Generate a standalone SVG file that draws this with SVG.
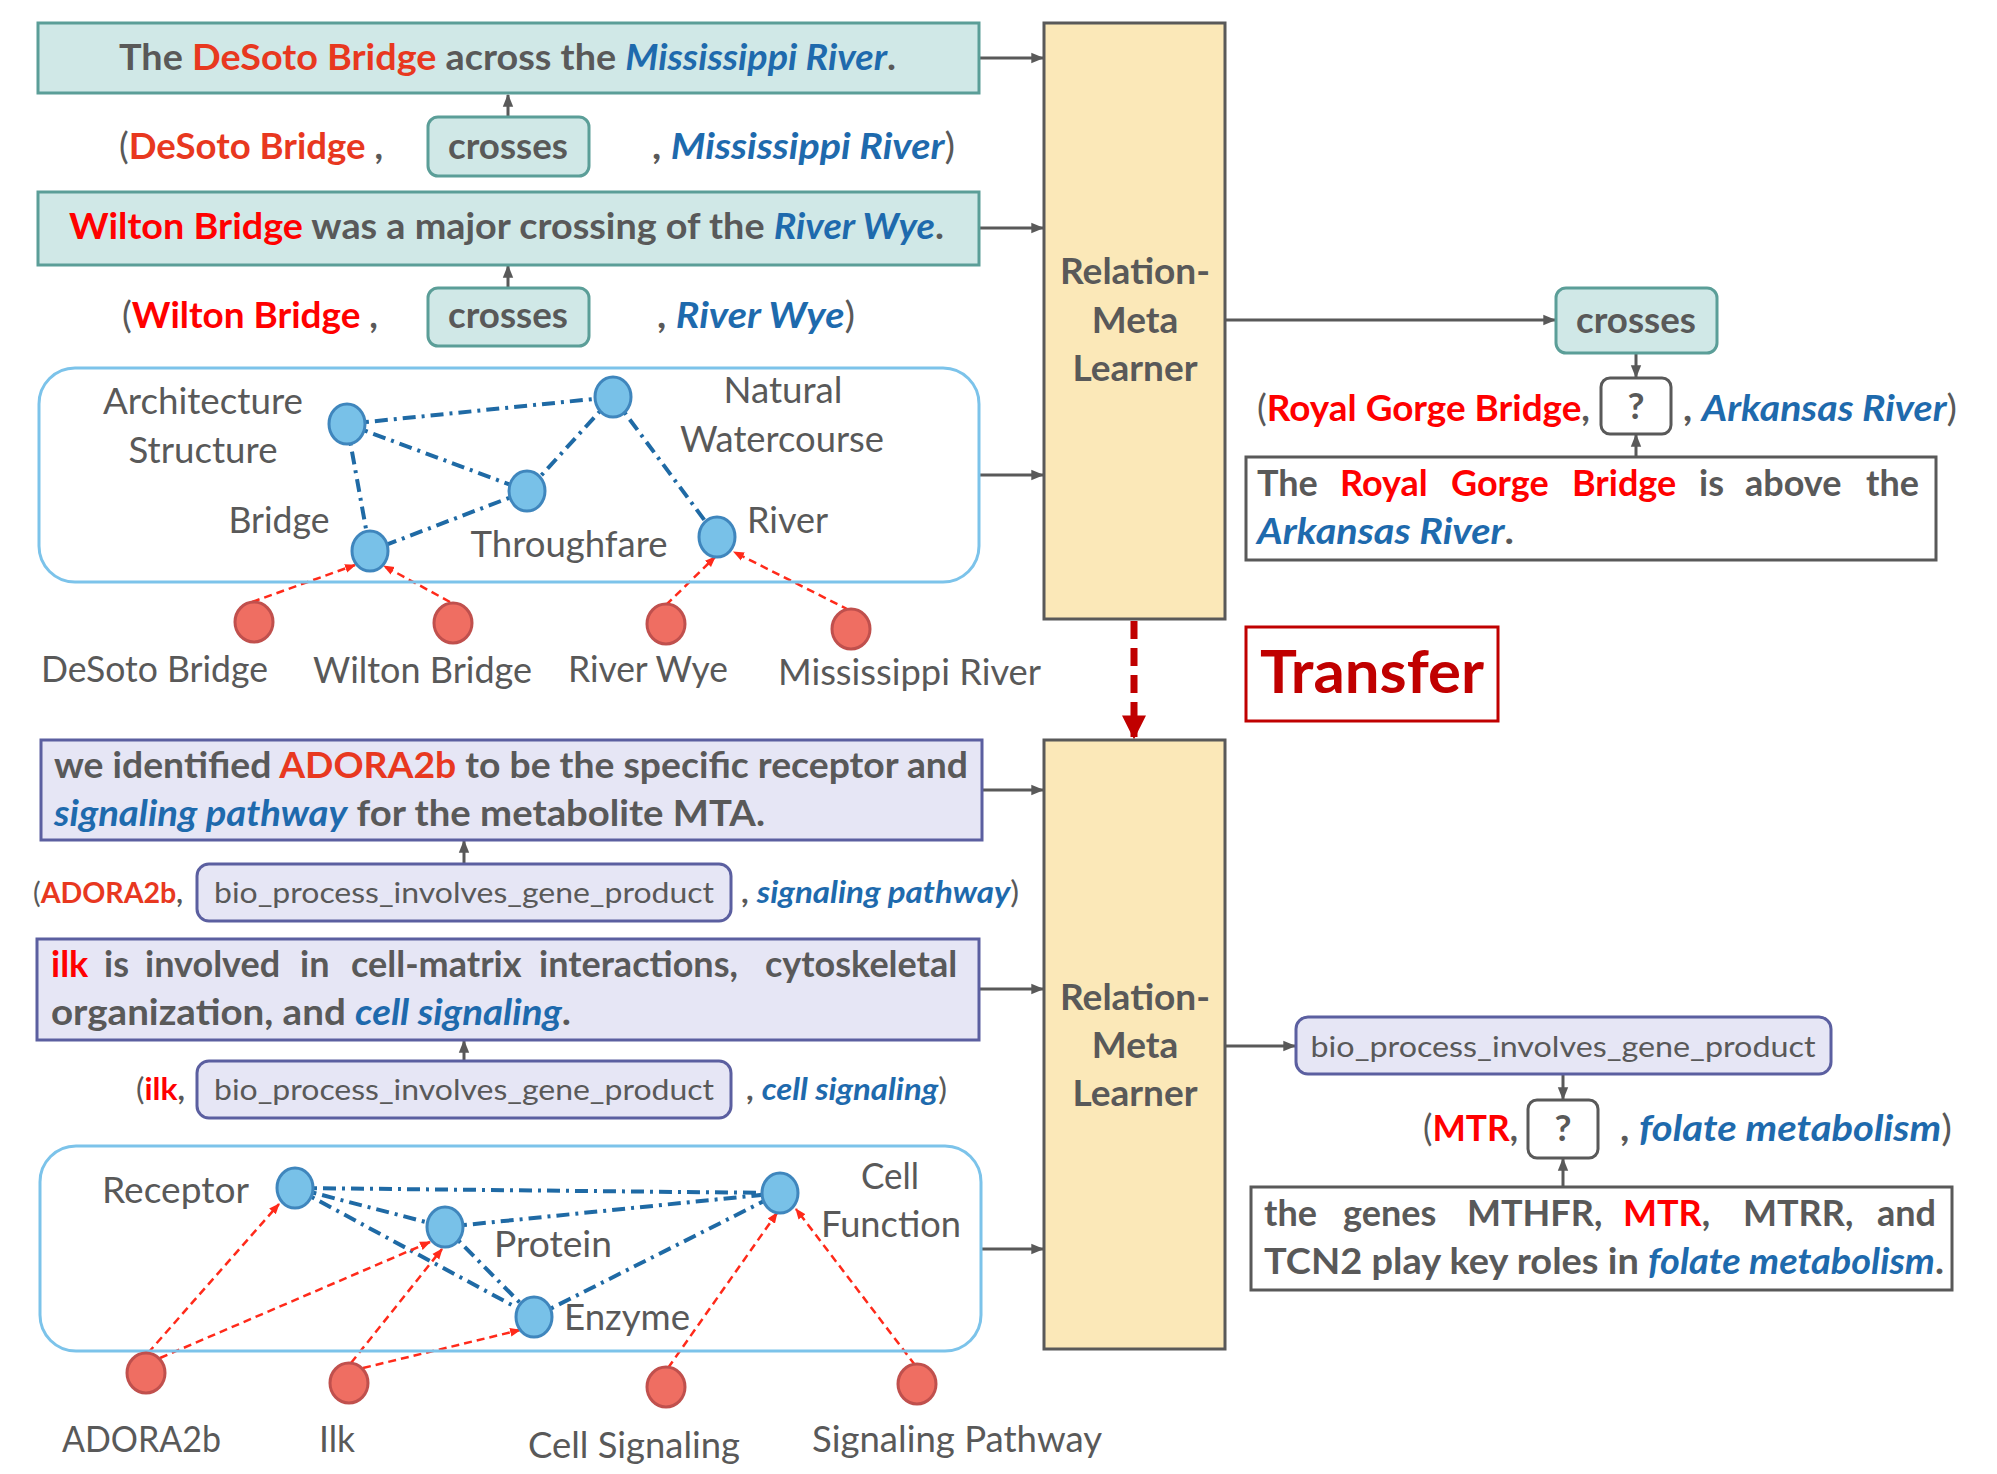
<svg xmlns="http://www.w3.org/2000/svg" width="1997" height="1474" viewBox="0 0 1997 1474">
<defs>
<style>
.t{font-family:Lato,"Open Sans","Liberation Sans",sans-serif;fill:#595959}
.b{font-weight:bold}
.s37{font-size:37px}
.s31{font-size:31px}
.s29{font-size:29px}
.red{fill:#ff0000}
.ora{fill:#e8381f}
.blu{fill:#1e6aad;font-style:italic}
.teal{fill:#d0e8e7;stroke:#5b9e98;stroke-width:3}
.lav{fill:#e6e6f5;stroke:#5b5fa0;stroke-width:3}
.plain{fill:#ffffff;stroke:#595959;stroke-width:3}
.learner{fill:#fbe8b8;stroke:#595959;stroke-width:3}
.gbox{fill:none;stroke:#7cc3ea;stroke-width:3}
.bn{fill:#78c1e8;stroke:#3f86bd;stroke-width:3}
.rn{fill:#ef6e62;stroke:#c0504d;stroke-width:3}
.be{stroke:#1f6aa5;stroke-width:4;fill:none;stroke-dasharray:13 6 3 6}
.re{stroke:#ff2a1a;stroke-width:2.5;fill:none;stroke-dasharray:8 5;marker-end:url(#ra)}
.ga{stroke:#595959;stroke-width:3;fill:none;marker-end:url(#ga)}
</style>
<marker id="ga" viewBox="0 0 10 10" refX="9" refY="5" markerWidth="13" markerHeight="13" markerUnits="userSpaceOnUse" orient="auto"><path d="M0,1 L10,5 L0,9 z" fill="#595959"/></marker>
<marker id="ra" viewBox="0 0 10 10" refX="9" refY="5" markerWidth="11" markerHeight="11" markerUnits="userSpaceOnUse" orient="auto"><path d="M0,1 L10,5 L0,9 z" fill="#ff2a1a"/></marker>
<marker id="ta" viewBox="0 0 10 10" refX="9" refY="5" markerWidth="24" markerHeight="24" markerUnits="userSpaceOnUse" orient="auto"><path d="M0,0 L10,5 L0,10 z" fill="#c00000"/></marker>
</defs>
<rect width="1997" height="1474" fill="#ffffff"/>

<g id="connectors">
<line class="ga" x1="979" y1="58" x2="1043" y2="58"/>
<line class="ga" x1="979" y1="228" x2="1043" y2="228"/>
<line class="ga" x1="979" y1="475" x2="1043" y2="475"/>
<line class="ga" x1="508" y1="117" x2="508" y2="95"/>
<line class="ga" x1="508" y1="288" x2="508" y2="266"/>
<line class="ga" x1="1225" y1="320" x2="1555" y2="320"/>
<line class="ga" x1="1636" y1="353" x2="1636" y2="377"/>
<line class="ga" x1="1636" y1="457" x2="1636" y2="435"/>
<line x1="1134" y1="621" x2="1134" y2="737" stroke="#c00000" stroke-width="7" stroke-dasharray="18 9" marker-end="url(#ta)"/>
<line class="ga" x1="982" y1="790" x2="1043" y2="790"/>
<line class="ga" x1="979" y1="989" x2="1043" y2="989"/>
<line class="ga" x1="981" y1="1249" x2="1043" y2="1249"/>
<line class="ga" x1="464" y1="864" x2="464" y2="841"/>
<line class="ga" x1="464" y1="1061" x2="464" y2="1041"/>
<line class="ga" x1="1225" y1="1046" x2="1295" y2="1046"/>
<line class="ga" x1="1563" y1="1074" x2="1563" y2="1099"/>
<line class="ga" x1="1563" y1="1187" x2="1563" y2="1159"/>
<line class="be" x1="347" y1="424" x2="613" y2="397"/>
<line class="be" x1="347" y1="424" x2="527" y2="491"/>
<line class="be" x1="347" y1="424" x2="370" y2="551"/>
<line class="be" x1="613" y1="397" x2="527" y2="491"/>
<line class="be" x1="613" y1="397" x2="717" y2="537"/>
<line class="be" x1="527" y1="491" x2="370" y2="551"/>
<line class="re" x1="252" y1="602" x2="355" y2="565"/>
<line class="re" x1="450" y1="602" x2="384" y2="566"/>
<line class="re" x1="666" y1="605" x2="715" y2="557"/>
<line class="re" x1="849" y1="610" x2="734" y2="552"/>
<line class="be" x1="295" y1="1188" x2="780" y2="1193"/>
<line class="be" x1="295" y1="1188" x2="445" y2="1227"/>
<line class="be" x1="295" y1="1188" x2="534" y2="1317"/>
<line class="be" x1="445" y1="1227" x2="780" y2="1193"/>
<line class="be" x1="445" y1="1227" x2="534" y2="1317"/>
<line class="be" x1="534" y1="1317" x2="780" y2="1193"/>
<line class="re" x1="148" y1="1353" x2="279" y2="1204"/>
<line class="re" x1="160" y1="1358" x2="430" y2="1242"/>
<line class="re" x1="351" y1="1363" x2="442" y2="1249"/>
<line class="re" x1="363" y1="1368" x2="520" y2="1330"/>
<line class="re" x1="668" y1="1368" x2="777" y2="1213"/>
<line class="re" x1="915" y1="1365" x2="796" y2="1209"/>
</g>

<g id="sent-desoto">
<rect class="teal" x="38" y="23" width="941" height="70"/>
<text class="t b s37" x="119" y="70" textLength="777" lengthAdjust="spacingAndGlyphs">The <tspan class="ora">DeSoto Bridge</tspan> across the <tspan class="blu">Mississippi River</tspan>.</text>
</g>
<g id="triple-desoto">
<text class="t b s37" x="119" y="159" textLength="264" lengthAdjust="spacingAndGlyphs"><tspan font-weight="normal">(</tspan><tspan class="ora">DeSoto Bridge</tspan> ,</text>
<rect class="teal" x="428" y="117" width="161" height="59" rx="10"/>
<text class="t b s37" x="508" y="159" text-anchor="middle" textLength="120" lengthAdjust="spacingAndGlyphs">crosses</text>
<text class="t b s37" x="652" y="159" textLength="303" lengthAdjust="spacingAndGlyphs">, <tspan class="blu">Mississippi River</tspan><tspan font-weight="normal">)</tspan></text>
</g>
<g id="sent-wilton">
<rect class="teal" x="38" y="192" width="941" height="73"/>
<text class="t b s37" x="69" y="239" textLength="875" lengthAdjust="spacingAndGlyphs"><tspan class="red">Wilton Bridge</tspan> was a major crossing of the <tspan class="blu">River Wye</tspan>.</text>
</g>
<g id="triple-wilton">
<text class="t b s37" x="122" y="328" textLength="256" lengthAdjust="spacingAndGlyphs"><tspan font-weight="normal">(</tspan><tspan class="red">Wilton Bridge</tspan> ,</text>
<rect class="teal" x="428" y="288" width="161" height="58" rx="10"/>
<text class="t b s37" x="508" y="328" text-anchor="middle" textLength="120" lengthAdjust="spacingAndGlyphs">crosses</text>
<text class="t b s37" x="657" y="328" textLength="198" lengthAdjust="spacingAndGlyphs">, <tspan class="blu">River Wye</tspan><tspan font-weight="normal">)</tspan></text>
</g>

<g id="graph-top">
<rect class="gbox" x="39" y="368" width="940" height="214" rx="36"/>
<g id="n-arch"><ellipse class="bn" cx="347" cy="424" rx="18" ry="20"/>
<text class="t s37" x="203" y="414" text-anchor="middle" textLength="200" lengthAdjust="spacingAndGlyphs">Architecture</text>
<text class="t s37" x="203" y="463" text-anchor="middle" textLength="149" lengthAdjust="spacingAndGlyphs">Structure</text></g>
<g id="n-natural"><ellipse class="bn" cx="613" cy="397" rx="18" ry="20"/>
<text class="t s37" x="783" y="403" text-anchor="middle" textLength="119" lengthAdjust="spacingAndGlyphs">Natural</text>
<text class="t s37" x="782" y="452" text-anchor="middle" textLength="204" lengthAdjust="spacingAndGlyphs">Watercourse</text></g>
<g id="n-through"><ellipse class="bn" cx="527" cy="491" rx="18" ry="20"/>
<text class="t s37" x="569" y="557" text-anchor="middle" textLength="197" lengthAdjust="spacingAndGlyphs">Throughfare</text></g>
<g id="n-bridge"><ellipse class="bn" cx="370" cy="551" rx="18" ry="20"/>
<text class="t s37" x="279" y="533" text-anchor="middle" textLength="101" lengthAdjust="spacingAndGlyphs">Bridge</text></g>
<g id="n-river"><ellipse class="bn" cx="717" cy="537" rx="18" ry="20"/>
<text class="t s37" x="747" y="533" textLength="81" lengthAdjust="spacingAndGlyphs">River</text></g>
</g>
<g id="e-desoto"><ellipse class="rn" cx="254" cy="622" rx="19" ry="20"/>
<text class="t s37" x="41" y="682" textLength="227" lengthAdjust="spacingAndGlyphs">DeSoto Bridge</text></g>
<g id="e-wilton"><ellipse class="rn" cx="453" cy="623" rx="19" ry="20"/>
<text class="t s37" x="313" y="683" textLength="219" lengthAdjust="spacingAndGlyphs">Wilton Bridge</text></g>
<g id="e-wye"><ellipse class="rn" cx="666" cy="624" rx="19" ry="20"/>
<text class="t s37" x="568" y="682" textLength="160" lengthAdjust="spacingAndGlyphs">River Wye</text></g>
<g id="e-miss"><ellipse class="rn" cx="851" cy="629" rx="19" ry="20"/>
<text class="t s37" x="778" y="685" textLength="263" lengthAdjust="spacingAndGlyphs">Mississippi River</text></g>

<g id="learner-top">
<rect class="learner" x="1044" y="23" width="181" height="596"/>
<text class="t b s37" x="1135" y="284" text-anchor="middle" textLength="150" lengthAdjust="spacingAndGlyphs">Relation-</text>
<text class="t b s37" x="1135" y="333" text-anchor="middle">Meta</text>
<text class="t b s37" x="1135" y="381" text-anchor="middle">Learner</text>
</g>

<g id="pred-crosses">
<rect class="teal" x="1556" y="288" width="161" height="65" rx="10"/>
<text class="t b s37" x="1636" y="333" text-anchor="middle" textLength="120" lengthAdjust="spacingAndGlyphs">crosses</text>
</g>
<g id="query-royal">
<text class="t b s37" x="1257" y="421" textLength="333" lengthAdjust="spacingAndGlyphs"><tspan font-weight="normal">(</tspan><tspan class="red">Royal Gorge Bridge</tspan>,</text>
<rect class="plain" x="1601" y="378" width="70" height="56" rx="9"/>
<text class="t b s37" x="1636" y="419" text-anchor="middle">?</text>
<text class="t b s37" x="1683" y="421" textLength="274" lengthAdjust="spacingAndGlyphs">, <tspan class="blu">Arkansas River</tspan><tspan font-weight="normal">)</tspan></text>
</g>
<g id="sent-royal">
<rect class="plain" x="1246" y="457" width="690" height="103"/>
<text class="t b" font-size="36" y="496"><tspan x="1257">The</tspan><tspan x="1340" class="red">Royal</tspan><tspan x="1451" class="red">Gorge</tspan><tspan x="1572" class="red">Bridge</tspan><tspan x="1699">is</tspan><tspan x="1745">above</tspan><tspan x="1866">the</tspan></text>
<text class="t b s37" x="1257" y="544" textLength="257" lengthAdjust="spacingAndGlyphs"><tspan class="blu">Arkansas River</tspan>.</text>
</g>

<g id="transfer">
<rect x="1246" y="627" width="252" height="94" fill="#ffffff" stroke="#c00000" stroke-width="3"/>
<text class="t b" font-size="60" x="1372" y="693" text-anchor="middle" style="fill:#c00000" textLength="224" lengthAdjust="spacingAndGlyphs">Transfer</text>
</g>

<g id="sent-adora">
<rect class="lav" x="41" y="740" width="941" height="100"/>
<text class="t b s37" x="54" y="778" textLength="914" lengthAdjust="spacingAndGlyphs">we identified <tspan class="ora">ADORA2b</tspan> to be the specific receptor and</text>
<text class="t b s37" x="54" y="826" textLength="711" lengthAdjust="spacingAndGlyphs"><tspan class="blu">signaling pathway</tspan> for the metabolite MTA.</text>
</g>
<g id="triple-adora">
<text class="t b s29" x="33" y="903" textLength="150" lengthAdjust="spacingAndGlyphs"><tspan font-weight="normal">(</tspan><tspan class="ora">ADORA2b</tspan>,</text>
<rect class="lav" x="197" y="864" width="534" height="57" rx="12"/>
<text class="t s29" x="464" y="903" text-anchor="middle" textLength="500" lengthAdjust="spacingAndGlyphs">bio_process_involves_gene_product</text>
<text class="t b s31" x="741" y="903" textLength="278" lengthAdjust="spacingAndGlyphs">, <tspan class="blu">signaling pathway</tspan><tspan font-weight="normal">)</tspan></text>
</g>
<g id="sent-ilk">
<rect class="lav" x="37" y="939" width="942" height="101"/>
<text class="t b" font-size="36" y="977"><tspan x="51" class="red">ilk</tspan><tspan x="104">is</tspan><tspan x="145">involved</tspan><tspan x="300">in</tspan><tspan x="351">cell-matrix</tspan><tspan x="539">interactions,</tspan><tspan x="765">cytoskeletal</tspan></text>
<text class="t b s37" x="51" y="1025" textLength="520" lengthAdjust="spacingAndGlyphs">organization, and <tspan class="blu">cell signaling</tspan>.</text>
</g>
<g id="triple-ilk">
<text class="t b s31" x="136" y="1100" textLength="49" lengthAdjust="spacingAndGlyphs"><tspan font-weight="normal">(</tspan><tspan class="red">ilk</tspan>,</text>
<rect class="lav" x="197" y="1061" width="534" height="57" rx="12"/>
<text class="t s29" x="464" y="1100" text-anchor="middle" textLength="500" lengthAdjust="spacingAndGlyphs">bio_process_involves_gene_product</text>
<text class="t b s31" x="746" y="1100" textLength="201" lengthAdjust="spacingAndGlyphs">, <tspan class="blu">cell signaling</tspan><tspan font-weight="normal">)</tspan></text>
</g>

<g id="graph-bottom">
<rect class="gbox" x="40" y="1146" width="941" height="205" rx="36"/>
<g id="n-receptor"><ellipse class="bn" cx="295" cy="1188" rx="18" ry="20"/>
<text class="t s37" x="102" y="1203" textLength="147" lengthAdjust="spacingAndGlyphs">Receptor</text></g>
<g id="n-cellfunc"><ellipse class="bn" cx="780" cy="1193" rx="18" ry="20"/>
<text class="t s37" x="861" y="1189" textLength="58" lengthAdjust="spacingAndGlyphs">Cell</text>
<text class="t s37" x="821" y="1237" textLength="140" lengthAdjust="spacingAndGlyphs">Function</text></g>
<g id="n-protein"><ellipse class="bn" cx="445" cy="1227" rx="18" ry="20"/>
<text class="t s37" x="494" y="1257" textLength="118" lengthAdjust="spacingAndGlyphs">Protein</text></g>
<g id="n-enzyme"><ellipse class="bn" cx="534" cy="1317" rx="18" ry="20"/>
<text class="t s37" x="564" y="1330" textLength="126" lengthAdjust="spacingAndGlyphs">Enzyme</text></g>
</g>
<g id="e-adora"><ellipse class="rn" cx="146" cy="1373" rx="19" ry="20"/>
<text class="t s37" x="62" y="1452" textLength="159" lengthAdjust="spacingAndGlyphs">ADORA2b</text></g>
<g id="e-ilk"><ellipse class="rn" cx="349" cy="1383" rx="19" ry="20"/>
<text class="t s37" x="319" y="1452" textLength="36" lengthAdjust="spacingAndGlyphs">Ilk</text></g>
<g id="e-cellsig"><ellipse class="rn" cx="666" cy="1387" rx="19" ry="20"/>
<text class="t s37" x="528" y="1458" textLength="212" lengthAdjust="spacingAndGlyphs">Cell Signaling</text></g>
<g id="e-sigpath"><ellipse class="rn" cx="917" cy="1384" rx="19" ry="20"/>
<text class="t s37" x="812" y="1452" textLength="290" lengthAdjust="spacingAndGlyphs">Signaling Pathway</text></g>

<g id="learner-bottom">
<rect class="learner" x="1044" y="740" width="181" height="609"/>
<text class="t b s37" x="1135" y="1010" text-anchor="middle" textLength="150" lengthAdjust="spacingAndGlyphs">Relation-</text>
<text class="t b s37" x="1135" y="1058" text-anchor="middle">Meta</text>
<text class="t b s37" x="1135" y="1106" text-anchor="middle">Learner</text>
</g>

<g id="pred-bio">
<rect class="lav" x="1296" y="1017" width="535" height="57" rx="12"/>
<text class="t s29" x="1563" y="1057" text-anchor="middle" textLength="505" lengthAdjust="spacingAndGlyphs">bio_process_involves_gene_product</text>
</g>
<g id="query-mtr">
<text class="t b s37" x="1423" y="1141" textLength="95" lengthAdjust="spacingAndGlyphs"><tspan font-weight="normal">(</tspan><tspan class="red">MTR</tspan>,</text>
<rect class="plain" x="1528" y="1100" width="70" height="58" rx="9"/>
<text class="t b s37" x="1563" y="1141" text-anchor="middle">?</text>
<text class="t b s37" x="1620" y="1141" textLength="332" lengthAdjust="spacingAndGlyphs">, <tspan class="blu">folate metabolism</tspan><tspan font-weight="normal">)</tspan></text>
</g>
<g id="sent-mtr">
<rect class="plain" x="1251" y="1187" width="701" height="103"/>
<text class="t b" font-size="36" y="1226"><tspan x="1264">the</tspan><tspan x="1343">genes</tspan><tspan x="1467">MTHFR,</tspan><tspan x="1623" class="red">MTR</tspan><tspan>,</tspan><tspan x="1743">MTRR,</tspan><tspan x="1877">and</tspan></text>
<text class="t b s37" x="1264" y="1274" textLength="680" lengthAdjust="spacingAndGlyphs">TCN2 play key roles in <tspan class="blu">folate metabolism</tspan>.</text>
</g>
</svg>
